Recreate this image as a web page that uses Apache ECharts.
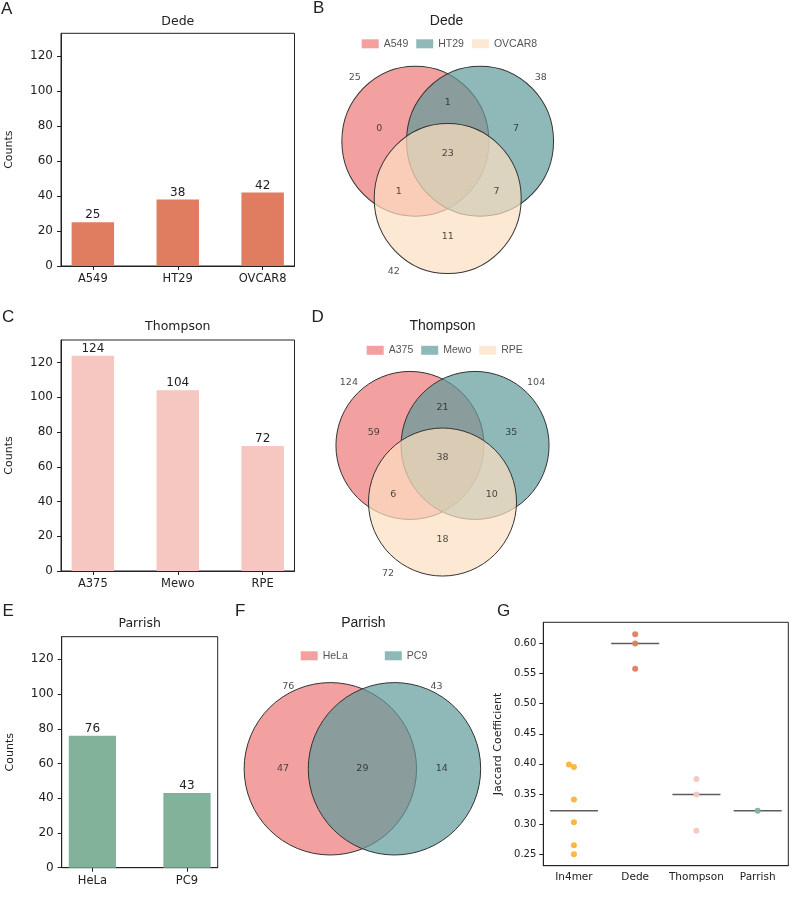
<!DOCTYPE html>
<html>
<head>
<meta charset="utf-8">
<script src="https://cdn.jsdelivr.net/npm/echarts@6/dist/echarts.min.js"></script>
<style>
  html, body { margin: 0; padding: 0; background: #fff; }
  #chart { width: 796px; height: 900px; }
</style>
</head>
<body>
<div id="chart"></div>
<script>
// ---- data ----
const dedeLines = ['A549', 'HT29', 'OVCAR8'];
const dedeCounts = [25, 38, 42];
const thompsonLines = ['A375', 'Mewo', 'RPE'];
const thompsonCounts = [124, 104, 72];
const parrishLines = ['HeLa', 'PC9'];
const parrishCounts = [76, 43];
const countTicks = [0, 20, 40, 60, 80, 100, 120];

// venn3 regions: [A only, B only, AB, C only, AC, BC, ABC]
const dedeRegions = [0, 7, 1, 11, 1, 7, 23];
const thompsonRegions = [59, 35, 21, 18, 6, 10, 38];
// venn2 regions: [A only, B only, AB]
const parrishRegions = [47, 14, 29];

const jaccGroups = ['In4mer', 'Dede', 'Thompson', 'Parrish'];
const in4merJacc = [0.399, 0.395, 0.341, 0.303, 0.265, 0.250];
const dedeJacc = [0.615, 0.600, 0.558];
const thompsonJacc = [0.375, 0.349, 0.289];
const parrishJacc = [0.322];
const jaccTicks = [0.25, 0.30, 0.35, 0.40, 0.45, 0.50, 0.55, 0.60];

// ---- venn layout (in circle-radius units, y up) ----
const V3_CIRCLES = [[-0.44, 0.255], [0.44, 0.255], [0, -0.51]];
const V3_REGION_POS = [[-0.93, 0.43], [0.93, 0.43], [0, 0.765], [0, -1.02],
                       [-0.665, -0.415], [0.665, -0.415], [0, 0.09]];
const V3_SET_POS = [[-1.265, 1.10], [1.265, 1.10], [-0.735, -1.48]];
const V2_CIRCLES = [[-0.372, 0], [0.372, 0]];
const V2_REGION_POS = [[-0.92, 0], [0.92, 0], [0, 0]];
const V2_SET_POS = [[-0.86, 1.0], [0.86, 1.0]];

const FONT = 'DejaVu Sans';
const SANS = 'Liberation Sans';
const INK = '#222';
const VENN_COLORS = ['rgba(236,119,119,0.7)', 'rgba(95,154,154,0.7)', 'rgba(252,224,192,0.7)'];

const grids = [], xAxes = [], yAxes = [], series = [], legends = [], graphics = [];

function barPanel(box, names, values, color) {
  const idx = grids.length;
  const n = names.length;
  const span = n - 0.5;
  const xmin = -0.25 - 0.05 * span, xmax = n - 0.75 + 0.05 * span;
  const pos = names.map((_, i) => i);
  grids.push({ left: box[0], top: box[1], width: box[2], height: box[3],
    show: true, borderColor: INK, borderWidth: 1 });
  xAxes.push({
    type: 'value', gridIndex: idx, min: xmin, max: xmax,
    splitLine: { show: false },
    axisLine: { onZero: false, lineStyle: { color: INK } },
    axisTick: { customValues: pos, length: 4, lineStyle: { color: INK } },
    axisLabel: { customValues: pos, formatter: v => names[Math.round(v)],
      color: INK, fontFamily: FONT, fontSize: 11.5, margin: 7 }
  });
  yAxes.push({
    type: 'value', gridIndex: idx, min: 0, max: 133,
    name: 'Counts', nameLocation: 'middle', nameGap: 46,
    nameTextStyle: { color: INK, fontFamily: FONT, fontSize: 11 },
    splitLine: { show: false },
    axisLine: { show: true, onZero: false, lineStyle: { color: INK } },
    axisTick: { show: true, customValues: countTicks, length: 4, lineStyle: { color: INK } },
    axisLabel: { customValues: countTicks, color: INK, fontFamily: FONT, fontSize: 12, margin: 8 }
  });
  series.push({
    type: 'bar', xAxisIndex: idx, yAxisIndex: idx, silent: true,
    data: values.map((v, i) => [i, v]),
    barWidth: box[2] / (xmax - xmin) * 0.5,
    itemStyle: { color: color },
    label: { show: true, position: 'top', distance: 1, formatter: p => p.value[1],
      color: INK, fontFamily: FONT, fontSize: 12 }
  });
}

function vennPanel(center, rx, ry, names, totals, regions, circles, regionPos, setPos) {
  const idx = grids.length;
  const R = 1.6;
  grids.push({ left: center[0] - R * rx, top: center[1] - R * ry, width: 2 * R * rx, height: 2 * R * ry });
  xAxes.push({ type: 'value', gridIndex: idx, min: -R, max: R, show: false });
  yAxes.push({ type: 'value', gridIndex: idx, min: -R, max: R, show: false });
  names.forEach((nm, k) => series.push({
    type: 'scatter', name: nm, xAxisIndex: idx, yAxisIndex: idx, silent: true,
    symbol: 'circle', symbolSize: [2 * rx, 2 * ry], data: [circles[k]],
    itemStyle: { color: VENN_COLORS[k], borderColor: '#333', borderWidth: 1, opacity: 1 }
  }));
  const labelPts = regions.map((v, k) => [regionPos[k][0], regionPos[k][1], v])
    .concat(totals.map((v, k) => [setPos[k][0], setPos[k][1], v]));
  series.push({
    type: 'scatter', xAxisIndex: idx, yAxisIndex: idx, silent: true, z: 5,
    symbolSize: 1, itemStyle: { color: 'rgba(0,0,0,0)' }, data: labelPts,
    label: { show: true, position: 'inside', formatter: p => p.value[2],
      color: INK, fontFamily: FONT, fontSize: 9.5 }
  });
}

function vennLegend(names, left, cy, gap) {
  legends.push({
    data: names, left: left, top: cy - 6, padding: 0, icon: 'rect',
    itemWidth: 17, itemHeight: 9, itemGap: gap, selectedMode: false,
    itemStyle: { borderWidth: 0 },
    textStyle: { color: '#555', fontFamily: SANS, fontSize: 10.5 }
  });
}

function txt(s, x, y, size, family, align) {
  graphics.push({ type: 'text', x: x, y: y, silent: true,
    style: { text: s, fill: INK, font: size + 'px "' + family + '"',
      textAlign: align || 'left', textVerticalAlign: 'middle' } });
}

// bar panels A, C, E
barPanel([61, 33.3, 233.5, 232.7], dedeLines, dedeCounts, '#E07C60');
barPanel([61, 340, 233.5, 231], thompsonLines, thompsonCounts, '#F6C6C0');
barPanel([61.7, 636.7, 156, 231], parrishLines, parrishCounts, '#82B39A');

// venn panels B, D, F
vennPanel([447.7, 160.3], 73.5, 75, dedeLines, dedeCounts, dedeRegions, V3_CIRCLES, V3_REGION_POS, V3_SET_POS);
vennPanel([442.5, 464.3], 74, 74, thompsonLines, thompsonCounts, thompsonRegions, V3_CIRCLES, V3_REGION_POS, V3_SET_POS);
vennPanel([362.4, 775.5], 86.2, 86.2, parrishLines, parrishCounts, parrishRegions, V2_CIRCLES, V2_REGION_POS, V2_SET_POS);
vennLegend(dedeLines, 361.7, 44.3, 8);
vennLegend(thompsonLines, 366.7, 350.8, 8);
vennLegend(parrishLines, 300.7, 656.3, 37);

// panel G: jaccard
const gi = grids.length;
grids.push({ left: 543.3, top: 622.3, width: 245, height: 243.4, show: true, borderColor: INK, borderWidth: 1 });
xAxes.push({
  type: 'category', gridIndex: gi, data: jaccGroups,
  axisLine: { onZero: false, lineStyle: { color: INK } },
  axisTick: { alignWithLabel: true, interval: 0, length: 4, lineStyle: { color: INK } },
  axisLabel: { interval: 0, color: INK, fontFamily: FONT, fontSize: 10.5, margin: 6 }
});
yAxes.push({
  type: 'value', gridIndex: gi, min: 0.231, max: 0.635,
  name: 'Jaccard Coefficient', nameLocation: 'middle', nameGap: 40,
  nameTextStyle: { color: INK, fontFamily: FONT, fontSize: 11 },
  splitLine: { show: false },
  axisLine: { show: true, onZero: false, lineStyle: { color: INK } },
  axisTick: { show: true, customValues: jaccTicks, length: 4, lineStyle: { color: INK } },
  axisLabel: { customValues: jaccTicks, formatter: v => v.toFixed(2),
    color: INK, fontFamily: FONT, fontSize: 10, margin: 7 }
});
function median(a) {
  const s = a.slice().sort((p, q) => p - q), m = s.length >> 1;
  return s.length % 2 ? s[m] : (s[m - 1] + s[m]) / 2;
}
const jaccSets = [in4merJacc, dedeJacc, thompsonJacc, parrishJacc];
const jaccColors = ['#F9B43B', '#E07C60', '#F6C6C0', '#82B39A'];
series.push({
  type: 'scatter', xAxisIndex: gi, yAxisIndex: gi, silent: true,
  symbol: 'rect', symbolSize: [48, 1.5], itemStyle: { color: '#333' },
  data: jaccSets.map((s, i) => [jaccGroups[i], median(s)])
});
jaccSets.forEach((s, i) => series.push({
  type: 'scatter', xAxisIndex: gi, yAxisIndex: gi, silent: true, z: 3,
  symbolSize: 6, itemStyle: { color: jaccColors[i], opacity: 0.95 },
  data: s.map((v, k) => (i === 0 && k === 0)
    ? { value: [jaccGroups[i], v], symbolOffset: [-5, 0] }
    : [jaccGroups[i], v])
}));

// titles and panel letters
txt('Dede', 177.8, 21.7, 12.5, FONT, 'center');
txt('Thompson', 177.8, 326.5, 12.5, FONT, 'center');
txt('Parrish', 139.7, 623.5, 12.5, FONT, 'center');
txt('Dede', 446.5, 21.5, 14, SANS, 'center');
txt('Thompson', 442.5, 326, 14, SANS, 'center');
txt('Parrish', 363.3, 623.5, 14, SANS, 'center');
txt('A', 1, 9, 17, SANS);
txt('B', 313, 8.5, 17, SANS);
txt('C', 2, 317, 17, SANS);
txt('D', 311.5, 317, 17, SANS);
txt('E', 2.5, 611.7, 17, SANS);
txt('F', 235, 611.5, 17, SANS);
txt('G', 497, 611, 17, SANS);

const chart = echarts.init(document.getElementById('chart'));
chart.setOption({
  animation: false,
  backgroundColor: '#fff',
  grid: grids, xAxis: xAxes, yAxis: yAxes,
  legend: legends, series: series, graphic: graphics
});
</script>
</body>
</html>
